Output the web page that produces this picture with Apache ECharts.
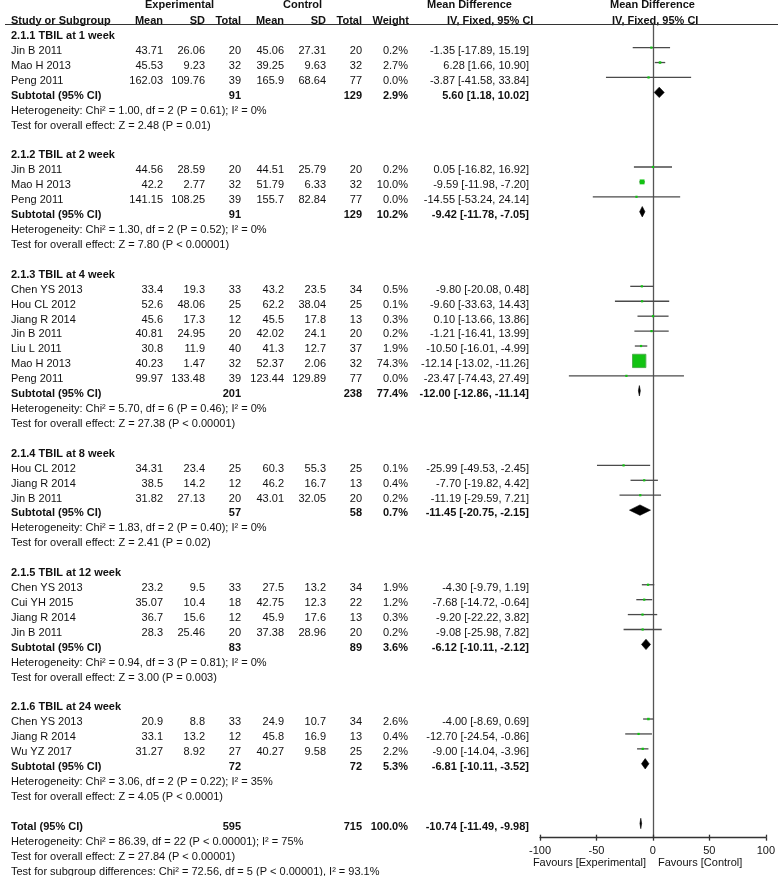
<!DOCTYPE html>
<html>
<head>
<meta charset="utf-8">
<script src="https://cdn.jsdelivr.net/npm/echarts@6/dist/echarts.min.js"></script>
<style>
  html, body { margin: 0; padding: 0; background: #fff; }
  #chart { width: 778px; height: 876px; }
</style>
</head>
<body>
<div id="chart"></div>
<script>
// subgroups
const groupTitles = ['2.1.1 TBIL at 1 week', '2.1.2 TBIL at 2 week', '2.1.3 TBIL at 4 week',
  '2.1.4 TBIL at 8 week', '2.1.5 TBIL at 12 week', '2.1.6 TBIL at 24 week'];
const groupHet = [
  'Heterogeneity: Chi² = 1.00, df = 2 (P = 0.61); I² = 0%',
  'Heterogeneity: Chi² = 1.30, df = 2 (P = 0.52); I² = 0%',
  'Heterogeneity: Chi² = 5.70, df = 6 (P = 0.46); I² = 0%',
  'Heterogeneity: Chi² = 1.83, df = 2 (P = 0.40); I² = 0%',
  'Heterogeneity: Chi² = 0.94, df = 3 (P = 0.81); I² = 0%',
  'Heterogeneity: Chi² = 3.06, df = 2 (P = 0.22); I² = 35%'];
const groupTest = [
  'Test for overall effect: Z = 2.48 (P = 0.01)',
  'Test for overall effect: Z = 7.80 (P < 0.00001)',
  'Test for overall effect: Z = 27.38 (P < 0.00001)',
  'Test for overall effect: Z = 2.41 (P = 0.02)',
  'Test for overall effect: Z = 3.00 (P = 0.003)',
  'Test for overall effect: Z = 4.05 (P < 0.0001)'];

// studies
const studyGroup = [0, 0, 0, 1, 1, 1, 2, 2, 2, 2, 2, 2, 2, 3, 3, 3, 4, 4, 4, 4, 5, 5, 5];
const studyName = ['Jin B 2011', 'Mao H 2013', 'Peng 2011',
  'Jin B 2011', 'Mao H 2013', 'Peng 2011',
  'Chen YS 2013', 'Hou CL 2012', 'Jiang R 2014', 'Jin B 2011', 'Liu L 2011', 'Mao H 2013', 'Peng 2011',
  'Hou CL 2012', 'Jiang R 2014', 'Jin B 2011',
  'Chen YS 2013', 'Cui YH 2015', 'Jiang R 2014', 'Jin B 2011',
  'Chen YS 2013', 'Jiang R 2014', 'Wu YZ 2017'];
const expMean = [43.71, 45.53, 162.03, 44.56, 42.2, 141.15, 33.4, 52.6, 45.6, 40.81, 30.8, 40.23, 99.97,
  34.31, 38.5, 31.82, 23.2, 35.07, 36.7, 28.3, 20.9, 33.1, 31.27];
const expSD = [26.06, 9.23, 109.76, 28.59, 2.77, 108.25, 19.3, 48.06, 17.3, 24.95, 11.9, 1.47, 133.48,
  23.4, 14.2, 27.13, 9.5, 10.4, 15.6, 25.46, 8.8, 13.2, 8.92];
const expN = [20, 32, 39, 20, 32, 39, 33, 25, 12, 20, 40, 32, 39, 25, 12, 20, 33, 18, 12, 20, 33, 12, 27];
const ctlMean = [45.06, 39.25, 165.9, 44.51, 51.79, 155.7, 43.2, 62.2, 45.5, 42.02, 41.3, 52.37, 123.44,
  60.3, 46.2, 43.01, 27.5, 42.75, 45.9, 37.38, 24.9, 45.8, 40.27];
const ctlSD = [27.31, 9.63, 68.64, 25.79, 6.33, 82.84, 23.5, 38.04, 17.8, 24.1, 12.7, 2.06, 129.89,
  55.3, 16.7, 32.05, 13.2, 12.3, 17.6, 28.96, 10.7, 16.9, 9.58];
const ctlN = [20, 32, 77, 20, 32, 77, 34, 25, 13, 20, 37, 32, 77, 25, 13, 20, 34, 22, 13, 20, 34, 13, 25];
const studyWeight = [0.2, 2.7, 0.0, 0.2, 10.0, 0.0, 0.5, 0.1, 0.3, 0.2, 1.9, 74.3, 0.0,
  0.1, 0.4, 0.2, 1.9, 1.2, 0.3, 0.2, 2.6, 0.4, 2.2];
const studyMD = [-1.35, 6.28, -3.87, 0.05, -9.59, -14.55, -9.80, -9.60, 0.10, -1.21, -10.50, -12.14, -23.47,
  -25.99, -7.70, -11.19, -4.30, -7.68, -9.20, -9.08, -4.00, -12.70, -9.00];
const studyLow = [-17.89, 1.66, -41.58, -16.82, -11.98, -53.24, -20.08, -33.63, -13.66, -16.41, -16.01, -13.02, -74.43,
  -49.53, -19.82, -29.59, -9.79, -14.72, -22.22, -25.98, -8.69, -24.54, -14.04];
const studyHigh = [15.19, 10.90, 33.84, 16.92, -7.20, 24.14, 0.48, 14.43, 13.86, 13.99, -4.99, -11.26, 27.49,
  -2.45, 4.42, 7.21, 1.19, -0.64, 3.82, 7.82, 0.69, -0.86, -3.96];

// subtotals
const subExpN = [91, 91, 201, 57, 83, 72];
const subCtlN = [129, 129, 238, 58, 89, 72];
const subWeight = [2.9, 10.2, 77.4, 0.7, 3.6, 5.3];
const subMD = [5.60, -9.42, -12.00, -11.45, -6.12, -6.81];
const subLow = [1.18, -11.78, -12.86, -20.75, -10.11, -10.11];
const subHigh = [10.02, -7.05, -11.14, -2.15, -2.12, -3.52];

// overall
const totalN = [595, 715];
const totalEffect = [100.0, -10.74, -11.49, -9.98]; // weight, md, low, high
const totalNotes = [
  'Heterogeneity: Chi² = 86.39, df = 22 (P < 0.00001); I² = 75%',
  'Test for overall effect: Z = 27.84 (P < 0.00001)',
  'Test for subgroup differences: Chi² = 72.56, df = 5 (P < 0.00001), I² = 93.1%'];

const xTicks = [-100, -50, 0, 50, 100];
const favourLabels = ['Favours [Experimental]', 'Favours [Control]'];

// layout (px)
const ROW0 = 36, PITCH = 14.92, MARK_SHIFT = -3.3;
const COL = { study: 11, eMean: 163, eSD: 205, eN: 241, cMean: 284, cSD: 326, cN: 362, w: 408, ci: 529 };
const FONT = '11px "Liberation Sans", Arial, sans-serif';
const BOLD = 'bold ' + FONT;

function ciText(md, lo, hi) {
  return md.toFixed(2) + ' [' + lo.toFixed(2) + ', ' + hi.toFixed(2) + ']';
}

// build text rows + forest marks
const texts = [];
const studyMarks = [];
const diamondMarks = [];
function put(x, r, t, align, bold) { texts.push({ x: x, r: r, t: String(t), align: align, bold: !!bold }); }

// headers
put(145, -2.08, 'Experimental', 'left', true);
put(283, -2.08, 'Control', 'left', true);
put(427, -2.08, 'Mean Difference', 'left', true);
put(610, -2.08, 'Mean Difference', 'left', true);
put(COL.study, -1, 'Study or Subgroup', 'left', true);
put(COL.eMean, -1, 'Mean', 'right', true);
put(COL.eSD, -1, 'SD', 'right', true);
put(COL.eN, -1, 'Total', 'right', true);
put(COL.cMean, -1, 'Mean', 'right', true);
put(COL.cSD, -1, 'SD', 'right', true);
put(COL.cN, -1, 'Total', 'right', true);
put(409, -1, 'Weight', 'right', true);
put(447, -1, 'IV, Fixed, 95% CI', 'left', true);
put(612, -1, 'IV, Fixed, 95% CI', 'left', true);

let r = 0;
groupTitles.forEach(function (title, g) {
  put(COL.study, r, title, 'left', true); r++;
  studyName.forEach(function (nm, i) {
    if (studyGroup[i] !== g) return;
    put(COL.study, r, nm, 'left');
    put(COL.eMean, r, expMean[i], 'right');
    put(COL.eSD, r, expSD[i], 'right');
    put(COL.eN, r, expN[i], 'right');
    put(COL.cMean, r, ctlMean[i], 'right');
    put(COL.cSD, r, ctlSD[i], 'right');
    put(COL.cN, r, ctlN[i], 'right');
    put(COL.w, r, studyWeight[i].toFixed(1) + '%', 'right');
    put(COL.ci, r, ciText(studyMD[i], studyLow[i], studyHigh[i]), 'right');
    studyMarks.push([studyLow[i], r, studyHigh[i], studyMD[i], studyWeight[i]]);
    r++;
  });
  put(COL.study, r, 'Subtotal (95% CI)', 'left', true);
  put(COL.eN, r, subExpN[g], 'right', true);
  put(COL.cN, r, subCtlN[g], 'right', true);
  put(COL.w, r, subWeight[g].toFixed(1) + '%', 'right', true);
  put(COL.ci, r, ciText(subMD[g], subLow[g], subHigh[g]), 'right', true);
  diamondMarks.push([subLow[g], r, subHigh[g], subMD[g]]);
  r++;
  put(COL.study, r, groupHet[g], 'left'); r++;
  put(COL.study, r, groupTest[g], 'left'); r++;
  r++; // blank
});
put(COL.study, r, 'Total (95% CI)', 'left', true);
put(COL.eN, r, totalN[0], 'right', true);
put(COL.cN, r, totalN[1], 'right', true);
put(COL.w, r, totalEffect[0].toFixed(1) + '%', 'right', true);
put(COL.ci, r, ciText(totalEffect[1], totalEffect[2], totalEffect[3]), 'right', true);
diamondMarks.push([totalEffect[2], r, totalEffect[3], totalEffect[1]]);
r++;
totalNotes.forEach(function (t) { put(COL.study, r, t, 'left'); r++; });
put(646, 55.45, favourLabels[0], 'right');
put(658, 55.45, favourLabels[1], 'left');

const H = 876;
const plotTop = 25, plotBottom = 837.7;
const rowOf = function (y) { return (y - ROW0) / PITCH; };
const markRowOf = function (y) { return (y - ROW0 - MARK_SHIFT) / PITCH; };
const xMin = xTicks[0], xMax = xTicks[xTicks.length - 1], xStep = xTicks[1] - xTicks[0];

const chart = echarts.init(document.getElementById('chart'));
chart.setOption({
  animation: false,
  backgroundColor: '#fff',
  grid: [
    { left: 0, right: 0, top: 0, bottom: 0 },
    { left: 540, right: 11.3, top: plotTop, bottom: H - plotBottom }
  ],
  xAxis: [
    { gridIndex: 0, type: 'value', min: 0, max: 778, show: false },
    {
      // bottom axis: line, labels, upward half of ticks
      gridIndex: 1, type: 'value', min: xMin, max: xMax, interval: xStep, position: 'bottom',
      axisLine: { show: true, onZero: false, lineStyle: { color: '#333', width: 1.3 } },
      axisTick: { show: true, inside: true, length: 3, lineStyle: { color: '#333', width: 1.3 } },
      axisLabel: { color: '#111', fontSize: 11, fontFamily: '"Liberation Sans", Arial, sans-serif', margin: 8 },
      splitLine: { show: false }
    },
    {
      // downward half of ticks (top axis shifted down to the bottom edge)
      gridIndex: 1, type: 'value', min: xMin, max: xMax, interval: xStep, position: 'top',
      offset: -(plotBottom - plotTop),
      axisLine: { show: false, onZero: false },
      axisTick: { show: true, inside: true, length: 3, lineStyle: { color: '#333', width: 1.3 } },
      axisLabel: { show: false },
      splitLine: { show: false }
    }
  ],
  yAxis: [
    { gridIndex: 0, type: 'value', inverse: true, min: rowOf(0), max: rowOf(H), show: false },
    {
      gridIndex: 1, type: 'value', inverse: true, min: markRowOf(plotTop), max: markRowOf(plotBottom),
      axisLine: { show: true, onZero: true, lineStyle: { color: '#555', width: 1.3 } },
      axisTick: { show: false }, axisLabel: { show: false }, splitLine: { show: false }
    }
  ],
  series: [
    {
      // table text
      type: 'custom', xAxisIndex: 0, yAxisIndex: 0, silent: true,
      data: texts.map(function (d, i) { return [d.x, d.r, i]; }),
      renderItem: function (params, api) {
        const d = texts[api.value(2)];
        const p = api.coord([api.value(0), api.value(1)]);
        return {
          type: 'text', x: p[0], y: p[1],
          style: {
            text: d.t, font: d.bold ? BOLD : FONT, fill: '#111',
            textAlign: d.align, align: d.align, textVerticalAlign: 'middle', verticalAlign: 'middle'
          }
        };
      },
      markLine: {
        silent: true, symbol: 'none', label: { show: false },
        lineStyle: { color: '#333', width: 1.2, type: 'solid' },
        data: [[{ coord: [5, rowOf(24.4)] }, { coord: [778, rowOf(24.4)] }]]
      }
    },
    {
      // study CI + weight squares
      type: 'custom', xAxisIndex: 1, yAxisIndex: 1, silent: true,
      data: studyMarks,
      renderItem: function (params, api) {
        const a = api.coord([api.value(0), api.value(1)]);
        const b = api.coord([api.value(2), api.value(1)]);
        const c = api.coord([api.value(3), api.value(1)]);
        const s = Math.max(2.2, 13.3 * Math.sqrt(api.value(4) / 74.3));
        return {
          type: 'group', children: [
            { type: 'line', shape: { x1: a[0], y1: a[1], x2: b[0], y2: b[1] }, style: { stroke: '#4a4a4a', lineWidth: 1.3 } },
            { type: 'rect', shape: { x: c[0] - s / 2, y: c[1] - s / 2, width: s, height: s },
              style: { fill: '#12c312', stroke: s > 6 ? '#4caf4c' : null, lineWidth: 1 } }
          ]
        };
      }
    },
    {
      // pooled diamonds
      type: 'custom', xAxisIndex: 1, yAxisIndex: 1, silent: true,
      data: diamondMarks,
      renderItem: function (params, api) {
        const a = api.coord([api.value(0), api.value(1)]);
        const b = api.coord([api.value(2), api.value(1)]);
        const c = api.coord([api.value(3), api.value(1)]);
        const h = 5.2;
        return {
          type: 'polygon',
          shape: { points: [[a[0], a[1]], [c[0], c[1] - h], [b[0], b[1]], [c[0], c[1] + h]] },
          style: { fill: '#000', stroke: '#000', lineWidth: 0.6 }
        };
      }
    }
  ]
});
</script>
</body>
</html>
